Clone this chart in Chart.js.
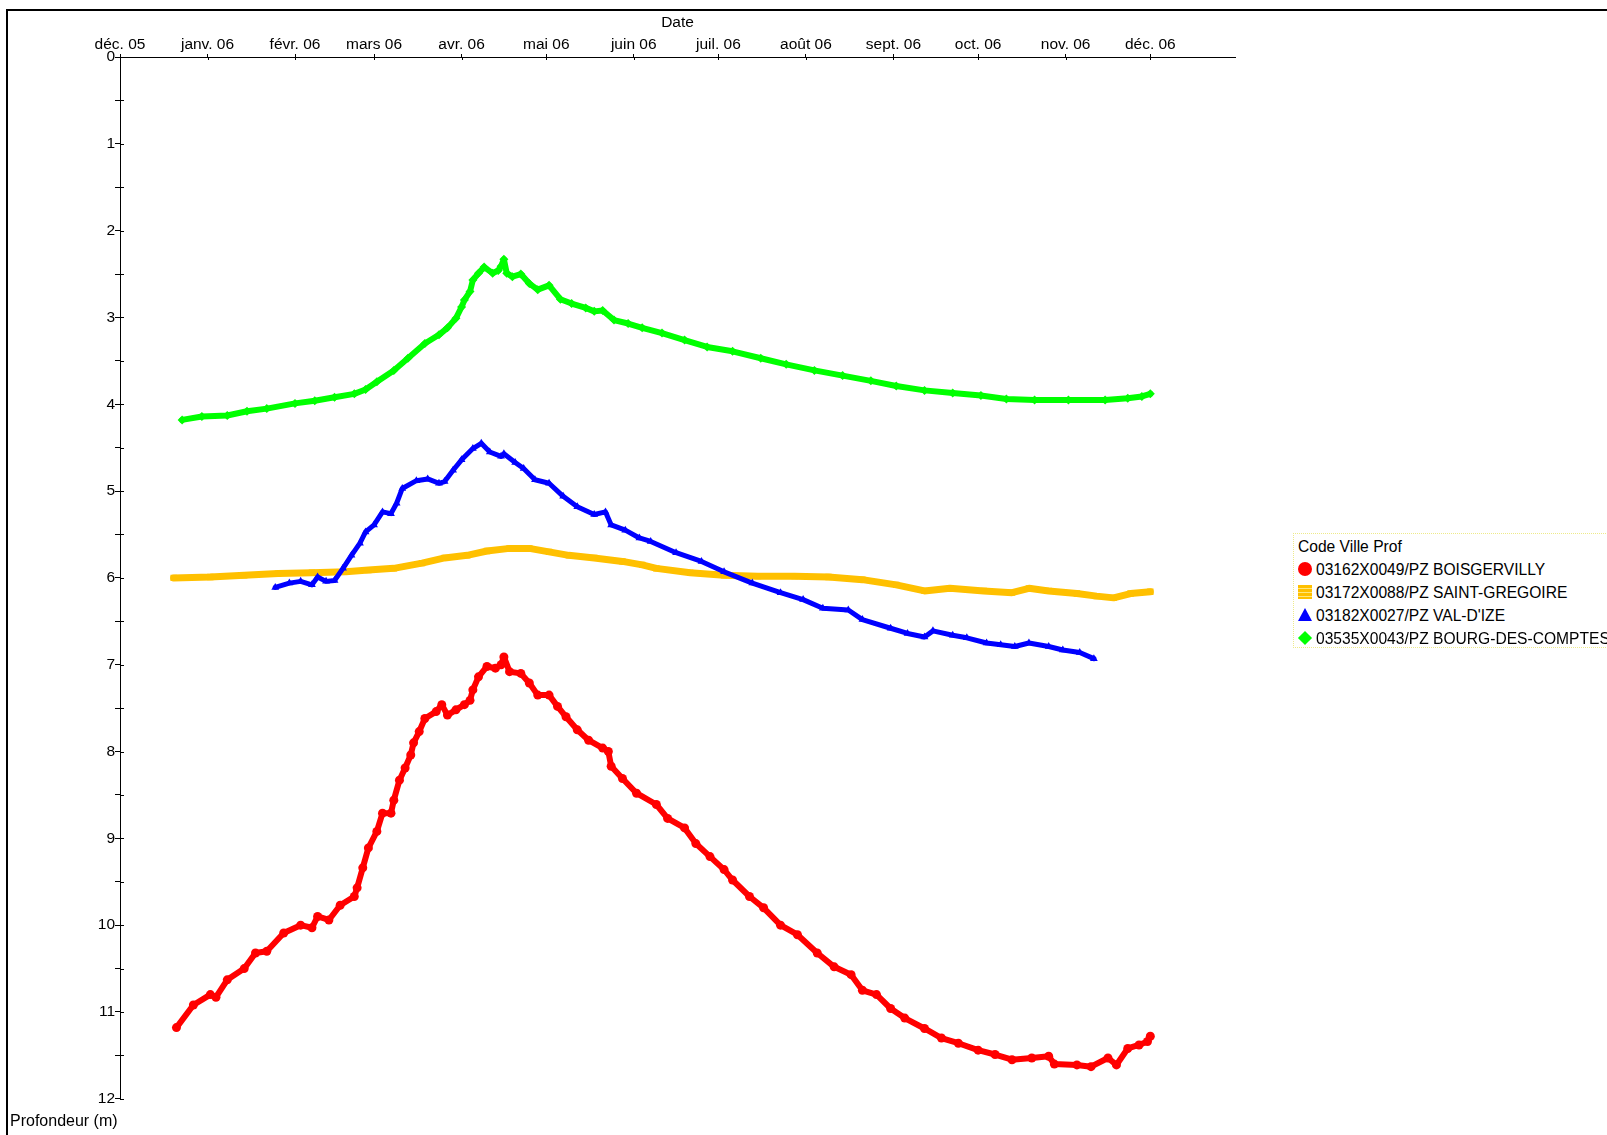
<!DOCTYPE html>
<html>
<head>
<meta charset="utf-8">
<title>Profondeur des piézomètres</title>
<script src="https://cdn.jsdelivr.net/npm/chart.js@4.4.1/dist/chart.umd.min.js"></script>
<style>
  html, body { margin: 0; padding: 0; background: #fff; overflow: hidden; }
  #wrap { position: relative; width: 1607px; height: 1135px; overflow: hidden; }
  #chart { position: absolute; left: 0; top: 0; }
  #legend {
    position: absolute; left: 1293px; top: 533px; width: 420px; height: 113px;
    border-top: 1px dotted #eeea8a; border-left: 1px dotted #eeea8a; border-bottom: 1px dotted #eeea8a;
    font: 15.6px "Liberation Sans", Arial, sans-serif; color: #000; background: #fff;
  }
  #legend .row { position: absolute; left: 0; height: 23px; line-height: 23px; white-space: nowrap; }
  #legend .title { left: 4px; }
  #legend .txt { position: absolute; left: 22px; top: 0; }
  #legend .mk { position: absolute; }
  #legend .mk.circle { left: 4px; top: 4px; width: 14px; height: 14px; border-radius: 50%; }
  #legend .mk.rect { left: 4px; top: 4px; width: 14px; height: 14px;
    background-image: repeating-linear-gradient(180deg, rgba(255,255,255,0) 0 3px, rgba(255,235,140,0.9) 3px 4px); }
  #legend .mk.triangle { left: 4px; top: 4px; width: 0; height: 0; background: none !important;
    border-left: 7px solid transparent; border-right: 7px solid transparent; border-bottom-width: 13px; border-bottom-style: solid; }
  #legend .mk.rectRot { left: 6px; top: 6px; width: 10px; height: 10px; transform: rotate(45deg); }
</style>
</head>
<body>
<div id="wrap">
  <canvas id="chart" width="1607" height="1135"></canvas>
  <div id="legend"></div>
</div>
<script>
// Month ticks of the date axis (first day of each month) and their labels
const monthTicks = [
  '2005-12-01', '2006-01-01', '2006-02-01', '2006-03-01', '2006-04-01', '2006-05-01', '2006-06-01',
  '2006-07-01', '2006-08-01', '2006-09-01', '2006-10-01', '2006-11-01', '2006-12-01'
];
const monthLabels = [
  'déc. 05', 'janv. 06', 'févr. 06', 'mars 06', 'avr. 06', 'mai 06', 'juin 06',
  'juil. 06', 'août 06', 'sept. 06', 'oct. 06', 'nov. 06', 'déc. 06'
];
const axisStart = '2005-12-01';
const axisEnd = '2006-12-31';

const legendTitle = 'Code Ville Prof';
const xTitle = 'Date';
const yTitle = 'Profondeur (m)';

// 03162X0049/PZ BOISGERVILLY
const boisgervillyDates = [
  '2005-12-21', '2005-12-27', '2006-01-02', '2006-01-04', '2006-01-08', '2006-01-14', '2006-01-18',
  '2006-01-22', '2006-01-28', '2006-02-03', '2006-02-07', '2006-02-09', '2006-02-13', '2006-02-17',
  '2006-02-22', '2006-02-23', '2006-02-25', '2006-02-27', '2006-03-02', '2006-03-04', '2006-03-07',
  '2006-03-08', '2006-03-10', '2006-03-12', '2006-03-14', '2006-03-15', '2006-03-17', '2006-03-19',
  '2006-03-23', '2006-03-25', '2006-03-27', '2006-03-30', '2006-04-02', '2006-04-04', '2006-04-05',
  '2006-04-07', '2006-04-10', '2006-04-13', '2006-04-15', '2006-04-16', '2006-04-18', '2006-04-22',
  '2006-04-25', '2006-04-28', '2006-05-02', '2006-05-05', '2006-05-08', '2006-05-12', '2006-05-16',
  '2006-05-21', '2006-05-23', '2006-05-24', '2006-05-28', '2006-06-02', '2006-06-09', '2006-06-13',
  '2006-06-19', '2006-06-23', '2006-06-28', '2006-07-03', '2006-07-06', '2006-07-12', '2006-07-17',
  '2006-07-23', '2006-07-29', '2006-08-05', '2006-08-11', '2006-08-17', '2006-08-21', '2006-08-26',
  '2006-08-31', '2006-09-05', '2006-09-12', '2006-09-18', '2006-09-24', '2006-10-01', '2006-10-07',
  '2006-10-13', '2006-10-20', '2006-10-26', '2006-10-28', '2006-11-05', '2006-11-10', '2006-11-16',
  '2006-11-19', '2006-11-23', '2006-11-27', '2006-11-30', '2006-12-01'
];
const boisgervillyDepth = [
  11.18, 10.92, 10.80, 10.83, 10.63, 10.50, 10.32,
  10.30, 10.09, 10.00, 10.03, 9.90, 9.94, 9.77,
  9.67, 9.57, 9.34, 9.11, 8.92, 8.71, 8.71,
  8.56, 8.33, 8.19, 8.04, 7.90, 7.77, 7.62,
  7.54, 7.46, 7.58, 7.52, 7.46, 7.41, 7.29,
  7.14, 7.02, 7.04, 7.00, 6.91, 7.08, 7.10,
  7.21, 7.35, 7.35, 7.48, 7.60, 7.75, 7.87,
  7.96, 8.00, 8.17, 8.31, 8.48, 8.61, 8.77,
  8.88, 9.06, 9.21, 9.36, 9.48, 9.67, 9.80,
  10.00, 10.11, 10.32, 10.48, 10.57, 10.75, 10.80,
  10.96, 11.07, 11.19, 11.30, 11.36, 11.44, 11.49,
  11.55, 11.53, 11.51, 11.60, 11.61, 11.63, 11.53,
  11.61, 11.42, 11.38, 11.34, 11.28
];

// 03172X0088/PZ SAINT-GREGOIRE
const saintGregoireDates = [
  '2005-12-20', '2006-01-02', '2006-01-14', '2006-01-26', '2006-02-07', '2006-02-19', '2006-02-27',
  '2006-03-08', '2006-03-18', '2006-03-26', '2006-04-03', '2006-04-10', '2006-04-18', '2006-04-25',
  '2006-05-02', '2006-05-09', '2006-05-18', '2006-05-28', '2006-06-04', '2006-06-09', '2006-06-21',
  '2006-07-03', '2006-07-15', '2006-07-28', '2006-08-09', '2006-08-21', '2006-09-02', '2006-09-12',
  '2006-09-21', '2006-10-03', '2006-10-13', '2006-10-19', '2006-10-26', '2006-11-05', '2006-11-12',
  '2006-11-18', '2006-11-24', '2006-12-01'
];
const saintGregoireDepth = [
  6.00, 5.99, 5.97, 5.95, 5.94, 5.93, 5.91,
  5.89, 5.83, 5.77, 5.74, 5.69, 5.66, 5.66,
  5.70, 5.74, 5.77, 5.81, 5.85, 5.89, 5.94,
  5.97, 5.98, 5.98, 5.99, 6.02, 6.08, 6.15,
  6.12, 6.15, 6.17, 6.12, 6.15, 6.18, 6.21,
  6.23, 6.18, 6.16
];

// 03182X0027/PZ VAL-D'IZE
const valDizeDates = [
  '2006-01-25', '2006-01-30', '2006-02-03', '2006-02-07', '2006-02-09', '2006-02-12', '2006-02-15',
  '2006-02-18', '2006-02-21', '2006-02-24', '2006-02-26', '2006-03-01', '2006-03-04', '2006-03-07',
  '2006-03-09', '2006-03-11', '2006-03-16', '2006-03-20', '2006-03-24', '2006-03-26', '2006-03-29',
  '2006-04-01', '2006-04-05', '2006-04-08', '2006-04-11', '2006-04-15', '2006-04-16', '2006-04-20',
  '2006-04-23', '2006-04-27', '2006-05-02', '2006-05-07', '2006-05-12', '2006-05-18', '2006-05-22',
  '2006-05-24', '2006-05-29', '2006-06-03', '2006-06-07', '2006-06-16', '2006-06-25', '2006-07-03',
  '2006-07-13', '2006-07-23', '2006-07-31', '2006-08-07', '2006-08-16', '2006-08-21', '2006-08-31',
  '2006-09-06', '2006-09-12', '2006-09-15', '2006-09-22', '2006-09-27', '2006-10-04', '2006-10-09',
  '2006-10-14', '2006-10-19', '2006-10-26', '2006-10-31', '2006-11-06', '2006-11-11'
];
const valDizeDepth = [
  6.11, 6.06, 6.04, 6.08, 5.99, 6.04, 6.03,
  5.89, 5.74, 5.60, 5.47, 5.39, 5.24, 5.26,
  5.14, 4.97, 4.88, 4.86, 4.91, 4.89, 4.76,
  4.64, 4.51, 4.45, 4.55, 4.60, 4.57, 4.67,
  4.74, 4.87, 4.91, 5.06, 5.18, 5.27, 5.24,
  5.39, 5.45, 5.54, 5.58, 5.71, 5.81, 5.93,
  6.06, 6.17, 6.25, 6.35, 6.37, 6.48, 6.58,
  6.64, 6.68, 6.61, 6.66, 6.69, 6.75, 6.77,
  6.79, 6.75, 6.79, 6.83, 6.86, 6.93
];

// 03535X0043/PZ BOURG-DES-COMPTES
const bourgDates = [
  '2005-12-23', '2005-12-30', '2006-01-08', '2006-01-15', '2006-01-22', '2006-02-01', '2006-02-08',
  '2006-02-15', '2006-02-22', '2006-02-26', '2006-03-02', '2006-03-08', '2006-03-13', '2006-03-19',
  '2006-03-24', '2006-03-27', '2006-03-30', '2006-04-01', '2006-04-02', '2006-04-04', '2006-04-05',
  '2006-04-07', '2006-04-09', '2006-04-12', '2006-04-14', '2006-04-15', '2006-04-16', '2006-04-17',
  '2006-04-19', '2006-04-22', '2006-04-25', '2006-04-28', '2006-05-02', '2006-05-06', '2006-05-10',
  '2006-05-15', '2006-05-18', '2006-05-21', '2006-05-25', '2006-05-30', '2006-06-04', '2006-06-11',
  '2006-06-19', '2006-06-27', '2006-07-06', '2006-07-16', '2006-07-25', '2006-08-04', '2006-08-14',
  '2006-08-24', '2006-09-02', '2006-09-12', '2006-09-22', '2006-10-02', '2006-10-11', '2006-10-21',
  '2006-11-02', '2006-11-15', '2006-11-23', '2006-11-28', '2006-12-01'
];
const bourgDepth = [
  4.18, 4.14, 4.13, 4.08, 4.05, 3.99, 3.96,
  3.92, 3.88, 3.83, 3.74, 3.61, 3.47, 3.30,
  3.20, 3.12, 3.01, 2.88, 2.80, 2.70, 2.57,
  2.49, 2.42, 2.49, 2.46, 2.41, 2.33, 2.49,
  2.53, 2.50, 2.61, 2.68, 2.63, 2.79, 2.84,
  2.89, 2.93, 2.92, 3.03, 3.07, 3.12, 3.18,
  3.26, 3.34, 3.39, 3.47, 3.54, 3.61, 3.67,
  3.73, 3.79, 3.84, 3.87, 3.90, 3.94, 3.95,
  3.95, 3.95, 3.93, 3.91, 3.88
];

const FONT = '"Liberation Sans", Arial, sans-serif';
const toPoints = (dates, values) => dates.map((d, i) => ({ x: Date.parse(d), y: values[i] }));

function series(label, dates, values, color, style, lineWidth, radius, order) {
  return {
    label,
    data: toPoints(dates, values),
    borderColor: color,
    backgroundColor: color,
    pointBackgroundColor: color,
    pointBorderColor: color,
    pointBorderWidth: 0,
    pointStyle: style,
    pointRadius: radius,
    borderWidth: lineWidth,
    borderJoinStyle: 'round',
    borderCapStyle: 'round',
    tension: 0,
    order
  };
}

// Black frame along the top and left edges
const framePlugin = {
  id: 'frame',
  beforeDraw(chart) {
    const { ctx, width, height } = chart;
    ctx.save();
    ctx.fillStyle = '#fff';
    ctx.fillRect(0, 0, width, height);
    ctx.fillStyle = '#000';
    ctx.fillRect(6, 9, width, 2);
    ctx.fillRect(6, 9, 2, height);
    ctx.restore();
  }
};

// Tick marks crossing into the plot area
const innerTicksPlugin = {
  id: 'innerTicks',
  beforeDatasetsDraw(chart) {
    const { ctx, chartArea, scales: { x, y } } = chart;
    ctx.save();
    ctx.strokeStyle = '#000';
    ctx.lineWidth = 1;
    ctx.beginPath();
    x.ticks.forEach(t => {
      const px = Math.round(x.getPixelForValue(t.value)) + 0.5;
      ctx.moveTo(px, chartArea.top);
      ctx.lineTo(px, chartArea.top + 3);
    });
    y.ticks.forEach(t => {
      const py = Math.round(y.getPixelForValue(t.value)) + 0.5;
      ctx.moveTo(chartArea.left, py);
      ctx.lineTo(chartArea.left + 4, py);
    });
    ctx.stroke();
    ctx.restore();
  }
};

// Legend built in HTML from the datasets
const htmlLegendPlugin = {
  id: 'htmlLegend',
  afterUpdate(chart) {
    const box = document.getElementById('legend');
    box.innerHTML = '';
    const title = document.createElement('div');
    title.className = 'row title';
    title.style.top = '1px';
    title.textContent = legendTitle;
    box.appendChild(title);
    chart.data.datasets.forEach((ds, i) => {
      const row = document.createElement('div');
      row.className = 'row';
      row.style.top = (24 + i * 23) + 'px';
      row.style.width = '400px';
      const mk = document.createElement('span');
      mk.className = 'mk ' + ds.pointStyle;
      if (ds.pointStyle === 'triangle') {
        mk.style.borderBottomColor = ds.backgroundColor;
      } else {
        mk.style.backgroundColor = ds.backgroundColor;
      }
      const txt = document.createElement('span');
      txt.className = 'txt';
      txt.textContent = ds.label;
      row.appendChild(mk);
      row.appendChild(txt);
      box.appendChild(row);
    });
  }
};

const tickValues = monthTicks.map(d => Date.parse(d));

new Chart(document.getElementById('chart'), {
  type: 'line',
  data: {
    datasets: [
      series('03162X0049/PZ BOISGERVILLY', boisgervillyDates, boisgervillyDepth, '#ff0000', 'circle', 6, 4.5, 0),
      series('03172X0088/PZ SAINT-GREGOIRE', saintGregoireDates, saintGregoireDepth, '#ffc000', 'rect', 7, 4.5, 2),
      series("03182X0027/PZ VAL-D'IZE", valDizeDates, valDizeDepth, '#0000ff', 'triangle', 5, 4.5, 1),
      series('03535X0043/PZ BOURG-DES-COMPTES', bourgDates, bourgDepth, '#00ff00', 'rectRot', 6, 4.5, 3)
    ]
  },
  options: {
    responsive: false,
    animation: false,
    events: [],
    layout: { padding: { left: 10, right: 372, top: 0, bottom: 0 } },
    plugins: {
      legend: { display: false },
      tooltip: { enabled: false },
      title: {
        display: true,
        text: yTitle,
        position: 'bottom',
        align: 'start',
        color: '#000',
        font: { family: FONT, size: 16, weight: 'normal' },
        padding: { top: 13, bottom: 4 }
      }
    },
    scales: {
      x: {
        type: 'linear',
        position: 'top',
        min: Date.parse(axisStart),
        max: Date.parse(axisEnd),
        afterBuildTicks: scale => { scale.ticks = tickValues.map(v => ({ value: v })); },
        afterFit: scale => { scale.height = 57; },
        ticks: {
          autoSkip: false,
          maxRotation: 0,
          padding: 0,
          color: '#000',
          font: { family: FONT, size: 15.5 },
          callback: (value, index) => monthLabels[index]
        },
        grid: { drawOnChartArea: false, drawTicks: true, tickLength: 3, color: '#000', lineWidth: 1 },
        border: { display: true, color: '#000', width: 1 },
        title: {
          display: true,
          text: xTitle,
          color: '#000',
          font: { family: FONT, size: 15.5 },
          padding: { top: 13, bottom: 0 }
        }
      },
      y: {
        type: 'linear',
        reverse: true,
        min: 0,
        max: 12,
        afterFit: scale => { scale.width = 110; },
        ticks: {
          stepSize: 0.5,
          autoSkip: false,
          padding: 0,
          color: '#000',
          font: { family: FONT, size: 15.5 },
          callback: v => (Number.isInteger(v) ? String(v) : '')
        },
        grid: { drawOnChartArea: false, drawTicks: true, tickLength: 5, color: '#000', lineWidth: 1 },
        border: { display: true, color: '#000', width: 1 }
      }
    }
  },
  plugins: [framePlugin, innerTicksPlugin, htmlLegendPlugin]
});
</script>
</body>
</html>
